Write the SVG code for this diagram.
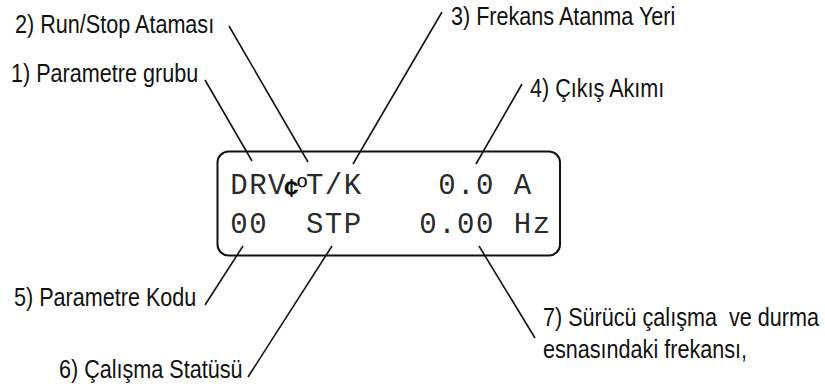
<svg xmlns="http://www.w3.org/2000/svg" width="825" height="391" viewBox="0 0 825 391">
  <style>
    .lbl { font-family: "Liberation Sans", Arial, sans-serif; font-size: 21.6px; fill: #111; white-space: pre; }
    .lcd { font-family: "Liberation Mono", "Courier New", monospace; font-size: 29px; fill: #2a2a2a; }
    .sym { font-family: "Liberation Sans", Arial, sans-serif; fill: #111; }
    .frame { fill: none; stroke: #111; stroke-width: 2; }
    .leader { stroke: #111; stroke-width: 1.6; fill: none; stroke-linecap: butt; }
  </style>
  <rect width="825" height="391" fill="#fff"/>

  <!-- LCD panel with two display rows -->
  <g id="lcd">
    <rect class="frame" x="217.5" y="151.5" width="342.5" height="104" rx="11" ry="11"/>
    <text class="lcd" y="194" x="230.3 249.2 268.1">DRV</text>
    <text class="sym" x="284" y="197"><tspan font-size="26" font-weight="bold">¢</tspan><tspan font-size="28" dx="-1.5" dy="-1">º</tspan></text>
    <text class="lcd" y="194" x="305.9 324.8 343.7">T/K</text>
    <text class="lcd" y="194" x="438.2 457.1 476.0">0.0</text>
    <text class="lcd" y="194" x="513.8">A</text>
    <text class="lcd" y="233" x="230.3 249.2">00</text>
    <text class="lcd" y="233" x="305.9 324.8 343.7">STP</text>
    <text class="lcd" y="233" x="419.3 438.2 457.1 476.0">0.00</text>
    <text class="lcd" y="233" x="513.8 532.7">Hz</text>
  </g>

  <!-- callout labels (narrow sans: scaled taller than wide) -->
  <g id="label-1"><text class="lbl" transform="translate(11 82) scale(1 1.16)">1) Parametre grubu</text></g>
  <g id="label-2"><text class="lbl" transform="translate(15 33) scale(1 1.16)">2) Run/Stop Ataması</text></g>
  <g id="label-3"><text class="lbl" transform="translate(451 25) scale(1 1.16)">3) Frekans Atanma Yeri</text></g>
  <g id="label-4"><text class="lbl" transform="translate(530 97) scale(1 1.16)">4) Çıkış Akımı</text></g>
  <g id="label-5"><text class="lbl" transform="translate(14 306) scale(1 1.16)">5) Parametre Kodu</text></g>
  <g id="label-6"><text class="lbl" transform="translate(59 378) scale(1 1.16)">6) Çalışma Statüsü</text></g>
  <g id="label-7">
    <text class="lbl" transform="translate(543 325.5) scale(1 1.16)">7) Sürücü çalışma  ve durma</text>
    <text class="lbl" transform="translate(543 358) scale(1 1.16)">esnasındaki frekansı,</text>
  </g>

  <!-- leader lines from labels to display fields -->
  <g id="connectors" class="leader">
    <line x1="205" y1="80" x2="252" y2="161"/>
    <line x1="229" y1="26" x2="308" y2="162"/>
    <line x1="442" y1="12" x2="353" y2="164"/>
    <line x1="522" y1="84" x2="476" y2="164"/>
    <line x1="243" y1="246" x2="205" y2="305"/>
    <line x1="332" y1="246" x2="248" y2="377"/>
    <line x1="479" y1="246" x2="535" y2="338"/>
  </g>
</svg>
